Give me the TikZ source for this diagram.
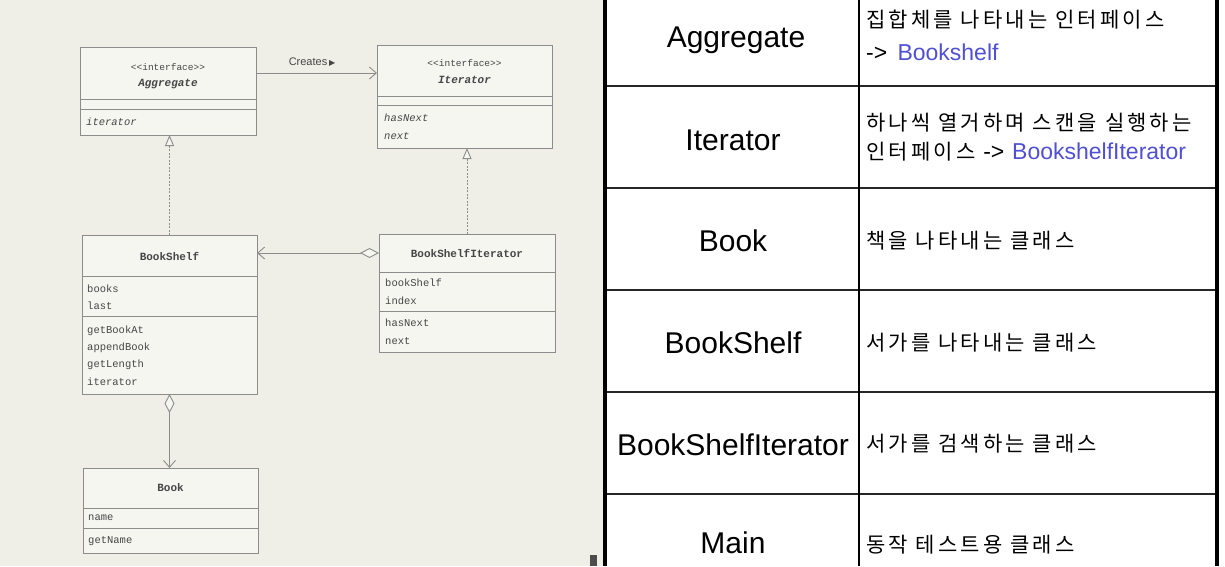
\documentclass[tikz,border=0pt]{standalone}
\usepackage{fontspec}
\usetikzlibrary{arrows.meta}
\newfontfamily\kr[LetterSpace=15]{Noto Sans CJK KR}
\newfontfamily\lsans{Liberation Sans}
\newfontfamily\mono{Liberation Mono}
\newfontfamily\dv{DejaVu Sans}
\definecolor{paper}{RGB}{239,239,231}
\definecolor{boxfill}{RGB}{246,246,240}
\definecolor{umlline}{RGB}{140,140,140}
\definecolor{umltext}{RGB}{70,70,70}
\definecolor{linkblue}{RGB}{80,80,210}
\newcommand\lat[1]{{\lsans\fontsize{23}{25}\selectfont #1}}
\tikzset{
  comp/.style={draw=umlline, fill=boxfill, line width=0.9pt, anchor=north west, inner sep=0pt, outer sep=0pt},
  utxt/.style={text=umltext, font=\mono\fontsize{10.5}{12}\selectfont, inner sep=0pt, anchor=west},
  uhead/.style={text=umltext, font=\mono\bfseries\fontsize{11}{12}\selectfont, inner sep=0pt},
  ustereo/.style={text=umltext, font=\mono\fontsize{9.5}{11}\selectfont, inner sep=0pt},
  conn/.style={draw=umlline, line width=0.9pt},
  realize/.style={conn, dash pattern=on 2pt off 1.5pt, -{Triangle[open, length=11pt, width=9pt, fill=boxfill]}},
  navig/.style={conn, -{Straight Barb[length=7pt, width=12pt]}},
  aggr/.style={conn, {Diamond[open, length=19pt, width=10pt, fill=boxfill]}-{Straight Barb[length=7pt, width=12pt]}},
  cname/.style={font=\lsans\fontsize{30}{34}\selectfont, inner sep=0pt},
  cdesc/.style={font=\kr\fontsize{21}{24}\selectfont, inner sep=0pt, anchor=west},
  rowline/.style={line width=2.5pt, draw=black!85},
}
\begin{document}
\begin{tikzpicture}[x=1pt,y=-1pt]
\useasboundingbox (0,0) rectangle (1225,566);
% paper (left) and table background (right)
\fill[paper] (0,0) rectangle (605,566);
\fill[white] (605,0) rectangle (1225,566);
\fill[black!70] (590,555) rectangle (597,566);

% ---------- UML classes ----------
% Aggregate
\node[comp, minimum width=176pt, minimum height=52pt] (aggH) at (80,47) {};
\node[comp, minimum width=176pt, minimum height=10pt] (aggA) at (80,99) {};
\node[comp, minimum width=176pt, minimum height=26pt] (aggM) at (80,109) {};
\node[ustereo] (aggS) at (168,67) {<<interface>>};
\node[uhead, font=\mono\bfseries\itshape\fontsize{11}{12}\selectfont] (aggN) at (168,84) {Aggregate};
\node[utxt, font=\mono\itshape\fontsize{10.5}{12}\selectfont] (aggM1) at (86,122) {iterator};

% Iterator
\node[comp, minimum width=175pt, minimum height=51pt] (itH) at (377,45) {};
\node[comp, minimum width=175pt, minimum height=9pt] (itA) at (377,96) {};
\node[comp, minimum width=175pt, minimum height=43pt] (itM) at (377,105) {};
\node[ustereo] (itS) at (464.5,63) {<<interface>>};
\node[uhead, font=\mono\bfseries\itshape\fontsize{11}{12}\selectfont] (itN) at (464.5,80) {Iterator};
\node[utxt, font=\mono\itshape\fontsize{10.5}{12}\selectfont] (itM1) at (384,118) {hasNext};
\node[utxt, font=\mono\itshape\fontsize{10.5}{12}\selectfont] (itM2) at (384,136) {next};

% BookShelf
\node[comp, minimum width=175pt, minimum height=41pt] (bsH) at (82,235) {};
\node[comp, minimum width=175pt, minimum height=40pt] (bsA) at (82,276) {};
\node[comp, minimum width=175pt, minimum height=78pt] (bsM) at (82,316) {};
\node[uhead] (bsN) at (169.5,256) {BookShelf};
\node[utxt] (bsA1) at (87,289) {books};
\node[utxt] (bsA2) at (87,306) {last};
\node[utxt] (bsM1) at (87,331) {getBookAt};
\node[utxt] (bsM2) at (87,348) {appendBook};
\node[utxt] (bsM3) at (87,365) {getLength};
\node[utxt] (bsM4) at (87,382) {iterator};

% BookShelfIterator
\node[comp, minimum width=176pt, minimum height=38pt] (bsiH) at (379,234) {};
\node[comp, minimum width=176pt, minimum height=39pt] (bsiA) at (379,272) {};
\node[comp, minimum width=176pt, minimum height=41pt] (bsiM) at (379,311) {};
\node[uhead] (bsiN) at (467,253) {BookShelfIterator};
\node[utxt] (bsiA1) at (385,283) {bookShelf};
\node[utxt] (bsiA2) at (385,301) {index};
\node[utxt] (bsiM1) at (385,323) {hasNext};
\node[utxt] (bsiM2) at (385,341) {next};

% Book
\node[comp, minimum width=175pt, minimum height=40pt] (bkH) at (83,468) {};
\node[comp, minimum width=175pt, minimum height=20pt] (bkA) at (83,508) {};
\node[comp, minimum width=175pt, minimum height=25pt] (bkM) at (83,528) {};
\node[uhead] (bkN) at (170.5,488) {Book};
\node[utxt] (bkA1) at (88,518) {name};
\node[utxt] (bkM1) at (88,541) {getName};

% ---------- UML connectors ----------
\draw[navig] (aggH.east) -- (aggH.east -| itH.west);
\node[font=\lsans\fontsize{11}{13}\selectfont, text=umltext, inner sep=0pt] (cr) at (312,62) {Creates\,{\dv\fontsize{8}{9}\selectfont ▶}};
\draw[realize] (bsH.north) -- (bsH.north |- aggM.south);
\draw[realize] (bsiH.north) -- (bsiH.north |- itM.south);
\draw[aggr] (bsiH.west) -- (bsiH.west -| bsH.east);
\draw[aggr] (bsM.south) -- (bsM.south |- bkH.north);

% ---------- Table ----------
\draw[rowline] (605,86) -- (1217,86);
\draw[rowline] (605,188) -- (1217,188);
\draw[rowline] (605,290) -- (1217,290);
\draw[rowline] (605,392) -- (1217,392);
\draw[rowline] (605,494) -- (1217,494);
\draw[line width=2pt, black] (859,0) -- (859,566);
\draw[line width=3.5pt, black] (605,0) -- (605,566);
\draw[line width=3.5pt, black] (1217,0) -- (1217,566);

\node[cname] (n1) at (736,40) {Aggregate};
\node[cname] (n2) at (733,140) {Iterator};
\node[cname] (n3) at (733,241) {Book};
\node[cname] (n4) at (733,343) {BookShelf};
\node[cname] (n5) at (733,445) {BookShelfIterator};
\node[cname] (n6) at (733,543) {Main};

\node[cdesc] (d1a) at (866,20) {집합체를 나타내는 인터페이스};
\node[cdesc] (d1b) at (866,52) {\lat{->\ \,}\lat{\color{linkblue}Bookshelf}};
\node[cdesc] (d2a) at (866,123) {하나씩 열거하며 스캔을 실행하는};
\node[cdesc] (d2b) at (866,152) {인터페이스 \lat{->} \lat{\color{linkblue}BookshelfIterator}};
\node[cdesc] (d3) at (866,241) {책을 나타내는 클래스};
\node[cdesc] (d4) at (866,343) {서가를 나타내는 클래스};
\node[cdesc] (d5) at (866,444) {서가를 검색하는 클래스};
\node[cdesc] (d6) at (866,545) {동작 테스트용 클래스};
\end{tikzpicture}
\end{document}
